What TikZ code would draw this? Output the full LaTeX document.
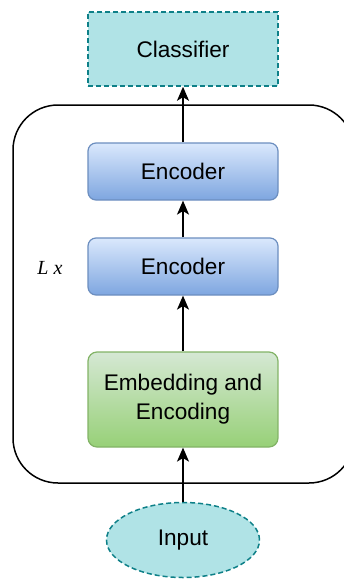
\documentclass[tikz,border=0pt]{standalone}
\usepackage{fontspec}
\setmainfont{Liberation Sans}
\newfontfamily\repfont{Liberation Serif}
\usetikzlibrary{arrows.meta,shapes.geometric}

\definecolor{tealfill}{HTML}{B0E3E6}
\definecolor{tealline}{HTML}{0E8088}
\definecolor{bluetop}{HTML}{DAE8FC}
\definecolor{bluebot}{HTML}{7EA6E0}
\definecolor{blueline}{HTML}{6C8EBF}
\definecolor{greentop}{HTML}{D5E8D4}
\definecolor{greenbot}{HTML}{97D077}
\definecolor{greenline}{HTML}{82B366}

\tikzset{
  lbl/.style={font=\fontsize{22.6}{29}\selectfont, text=black, align=center},
  tealbox/.style={lbl, fill=tealfill, draw=tealline, line width=1.5pt,
    dash pattern=on 5pt off 3pt},
  encbox/.style={lbl, rectangle, rounded corners=8pt, draw=blueline, line width=1.2pt,
    top color=bluetop, bottom color=bluebot, minimum width=190pt, minimum height=57pt},
  embbox/.style={lbl, rectangle, rounded corners=9pt, draw=greenline, line width=1.2pt,
    top color=greentop, bottom color=greenbot, minimum width=190pt, minimum height=95pt},
  arr/.style={line width=1.5pt, -{Stealth[length=14pt,width=12pt,inset=3.5pt]}},
}

\begin{document}
\begin{tikzpicture}[x=1pt,y=-1pt]
  \useasboundingbox (0,0) rectangle (344,579);
  \clip (0,0) rectangle (344,579);

  % repeated block frame
  \node[draw=black, line width=1.5pt, rounded corners=45pt,
        minimum width=341pt, minimum height=378pt, inner sep=0pt] (stack) at (183.5,294) {};
  \node[font=\repfont\itshape\fontsize{20}{22}\selectfont] (rep) at (50,268) {L\hspace{5pt}x};

  % blocks
  \node[tealbox, rectangle, minimum width=190pt, minimum height=74pt] (cls) at (183,49) {Classifier};
  \node[encbox] (enc1) at (183,171.5) {Encoder};
  \node[encbox] (enc2) at (183,266.5) {Encoder};
  \node[embbox] (emb) at (183,399.5) {Embedding and\\Encoding};
  \node[tealbox, ellipse, minimum width=153pt, minimum height=75pt, inner sep=0pt] (inp) at (183,540) {Input};

  % data flow
  \draw[arr] (inp) -- (emb);
  \draw[arr] (emb) -- (enc2);
  \draw[arr] (enc2) -- (enc1);
  \draw[arr] (enc1) -- (cls);
\end{tikzpicture}
\end{document}
